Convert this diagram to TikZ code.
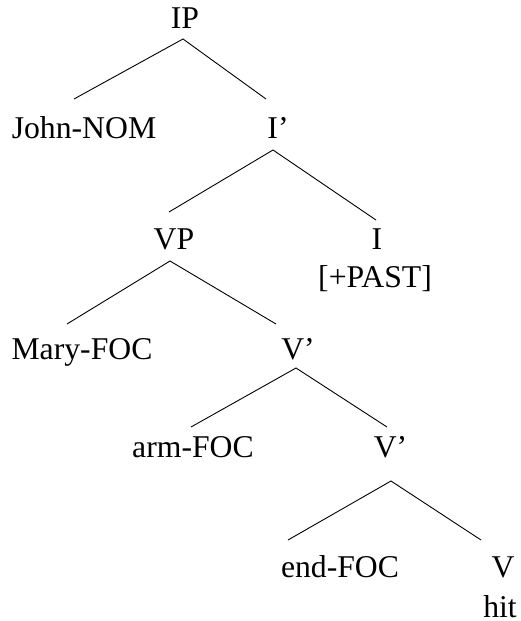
\documentclass[tikz,border=0pt]{standalone}
\usepackage{fontspec}
\setmainfont{Liberation Serif}
\begin{document}
\begin{tikzpicture}[x=1pt,y=-1pt,
  lbl/.style={inner sep=0pt,anchor=base,font=\fontsize{31.7}{38}\selectfont},
  br/.style={line width=0.9pt}]
\useasboundingbox (0,0) rectangle (521,621);
\node[lbl] (IP) at (185,28) {IP};
\node[lbl] (John) at (84,138) {John-NOM};
\node[lbl] (Ibar) at (278,138) {I’};
\node[lbl] (VP) at (174,249) {VP};
\node[lbl] (I) at (377,249) {I};
\node[lbl] (past) at (375,287) {[+PAST]};
\node[lbl] (Mary) at (82,359) {Mary-FOC};
\node[lbl] (Vbar1) at (298,359) {V’};
\node[lbl] (arm) at (193,457) {arm-FOC};
\node[lbl] (Vbar2) at (390.5,457) {V’};
\node[lbl] (endf) at (340,577) {end-FOC};
\node[lbl] (V) at (503,577) {V};
\node[lbl] (hit) at (500,617) {hit};
\draw[br] ([shift={(-10,-39)}]John.base) -- ([shift={(-2,11)}]IP.base) -- ([shift={(-12,-39)}]Ibar.base);
\draw[br] ([shift={(-5,-37)}]VP.base) -- ([shift={(-5,12)}]Ibar.base) -- ([shift={(-1,-29)}]I.base);
\draw[br] ([shift={(-15,-35)}]Mary.base) -- ([shift={(-4,12)}]VP.base) -- ([shift={(-22,-35)}]Vbar1.base);
\draw[br] ([shift={(-2,-30)}]arm.base) -- ([shift={(-2,9)}]Vbar1.base) -- ([shift={(-3.5,-30)}]Vbar2.base);
\draw[br] ([shift={(-52,-37)}]endf.base) -- ([shift={(0.5,24)}]Vbar2.base) -- ([shift={(-22,-37)}]V.base);
\end{tikzpicture}
\end{document}
